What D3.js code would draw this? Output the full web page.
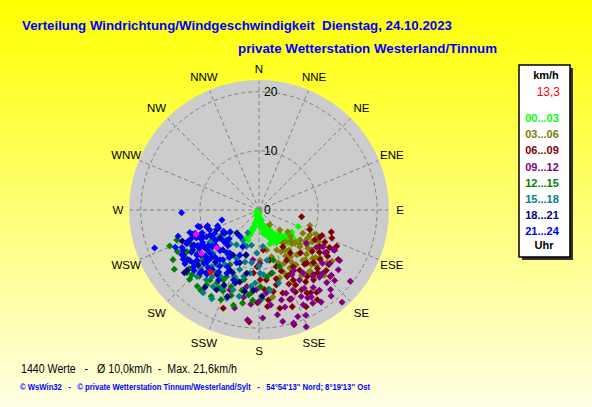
<!DOCTYPE html>
<html>
<head>
<meta charset="utf-8">
<script src="https://cdn.jsdelivr.net/npm/d3@7"></script>
<style>
  body { margin: 0; overflow: hidden; }
  svg { display: block; }
</style>
</head>
<body>
<div id="chart"></div>
<script>
"use strict"

/* wind direction (deg, clockwise from N) and speed (km/h),
   one list per 3 hour block */
let h00 = [[207,0.4],[201,1.1],[197,2.3],[197,3.5],[200,4.5],[204,5.2],[165,1.8],[169,3.5],[166,4.3],[151,3.9],
           [149,4.6],[148,5.6],[140,5.5],[141,6.5],[139,7.4],[152,6.3],[113,7.2],[132,7.1],[155,3.1],[174,1.7],
           [132,6.3],[180,0.7],[192,1.6],[196,3.0],[199,4.1],[169,2.6],[159,4.3],[155,5.2],[147,6.2],[136,6.1],
           [130,7.9],[200,5.4],[240,0.5],[162,6.0],[124,6.7],[190,0.8],[185,1.5],[195,2.8],[193,2.0],[199,3.2],
           [201,3.8],[202,4.8],[172,2.2],[167,2.9],[170,4.0],[163,3.6],[158,3.7],[154,4.0],[145,5.0],[143,6.0],
           [137,6.8],[134,7.5],[128,7.0],[150,5.0],[157,5.6],[160,5.0],[178,1.2],[210,1.0],[175,3.0]];
let h03 = [[144,3.1],[134,4.9],[127,6.1],[134,7.5],[144,6.9],[132,8.3],[132,9.3],[126,10.0],[127,11.2],[132,12.2],
           [134,13.5],[137,11.5],[140,9.9],[146,9.5],[152,11.1],[157,12.2],[165,12.3],[171,14.9],[147,13.2],[142,13.5],
           [128,13.1],[128,14.6],[125,15.1],[123,11.7],[120,9.5],[126,8.6],[118,8.4],[107,9.0],[116,9.6],[139,11.3],
           [156,7.4],[165,8.2],[169,6.9],[179,8.5],[147,8.1],[146,11.2],[118,11.4],[135,15.6],[130,9.0],[136,8.0],
           [140,7.0],[128,10.5],[133,11.0],[124,9.5],[121,10.5],[138,10.0],[143,8.5],[150,9.0],[148,10.5],[155,10.0],
           [160,9.5],[152,8.0],[130,12.5],[136,12.8],[140,13.5],[119,12.5],[113,10.5],[130,7.0],[158,11.5],[163,12.0]];
let h06 = [[99,7.3],[107,12.8],[114,11.3],[118,10.7],[116,12.4],[129,13.3],[122,15.8],[132,15.3],[144,13.9],[154,13.2],
           [164,14.6],[174,15.3],[161,17.3],[163,20.3],[181,15.7],[200,17.7],[168,17.0],[175,16.4],[157,12.2],[163,10.0],
           [168,8.7],[182,9.6],[185,10.7],[136,10.1],[144,9.0],[147,7.4],[148,16.5],[147,18.1],[154,18.2],[152,15.3],
           [167,13.0],[174,11.9],[149,11.2],[138,12.1],[121,12.0],[128,11.4],[122,13.5],[115,14.5],[151,9.7],[169,10.9],
           [179,11.8],[111,9.2],[111,13.2],[174,6.8],[185,19.0],[154,14.1],[142,15.0],[191,13.8],[146,12.3],[135,14.0],
           [125,12.5],[134,12.8],[140,12.0],[137,14.5],[128,15.0],[124,14.0],[118,13.5],[112,11.5],
           [140,14.3],[147,14.5],[153,12.0],[158,13.5],[160,11.0],[156,15.2],[150,16.2],[145,17.0],
           [161,16.0],[170,14.0],[166,12.0],[176,13.5],[133,16.5]];
let h09 = [[118,14.2],[123,13.3],[122,16.1],[128,19.6],[138,21.0],[158,21.3],[160,19.2],[168,19.3],[178,18.3],[186,18.7],
           [194,17.1],[125,9.8],[135,15.2],[138,18.1],[143,17.0],[149,17.2],[154,16.3],[157,14.7],[162,14.8],[153,12.3],
           [150,13.7],[175,14.1],[182,13.5],[189,13.1],[200,14.4],[205,14.3],[179,9.0],[187,8.5],[138,15.3],[137,16.8],
           [118,14.5],[132,16.5],[150,15.3],[151,17.0],[150,18.2],[123,11.6],[166,15.7],[127,16.8],[130,14.0],[127,15.0],
           [141,14.5],[145,16.0],[133,17.5],[140,19.0],[146,18.8],[155,17.7],[160,16.0],[165,17.0],[170,18.0],[173,16.2],
           [180,15.5],[185,16.0],[190,15.0],[156,19.5],[163,20.0],[120,12.5],[145,13.0],[150,11.8]];
let h12 = [[248,16.3],[240,16.8],[235,17.5],[230,15.4],[225,16.6],[222,15.1],[219,16.6],[215,14.5],[209,16.7],[207,13.3],
           [207,14.8],[240,14.1],[228,12.2],[229,16.2],[216,16.8],[203,16.5],[195,16.7],[190,16.0],[184,15.3],[179,13.0],
           [173,11.4],[168,10.9],[198,12.4],[206,12.5],[214,12.8],[228,12.7],[235,12.8],[192,13.9],[160,10.2],[164,8.8],
           [187,14.5],[208,10.5],[215,15.5],[222,13.0],[230,13.5],[236,14.8],[243,15.5],[226,15.8],[210,14.2],[204,15.0],
           [198,15.2],[185,14.0],[178,15.0],[173,13.5],[192,12.0],[200,13.8],[244,13.0],[250,14.8]];
let h15 = [[208,5.8],[199,6.5],[232,6.3],[224,9.5],[227,10.7],[226,12.8],[217,14.8],[211,15.1],[200,15.9],[198,14.2],
           [188,10.8],[179,10.7],[171,8.6],[165,12.8],[183,7.3],[174,6.2],[192,6.1],[206,4.3],[236,8.0],[237,9.9],
           [239,11.6],[223,15.4],[214,16.9],[205,9.0],[198,10.6],[212,10.9],[218,11.7],[195,9.1],[213,7.0],[183,12.4],
           [172,13.7],[215,9.2],[220,12.5],[210,13.0],[200,12.0],[193,11.5],[205,14.5],[215,13.8],[225,14.0],[230,11.5],
           [233,9.5],[228,7.5],[220,7.5],[196,8.0],[188,9.0],[180,9.5],[176,11.0],[186,13.0],[193,15.0],[208,17.0],
           [203,6.5],[218,5.5]];
let h18 = [[246,13.2],[239,14.9],[230,15.9],[247,10.8],[245,7.9],[222,9.1],[200,9.5],[191,10.9],[184,13.6],[200,15.6],
           [208,15.3],[220,13.9],[234,8.1],[228,13.9],[224,5.4],[225,11.5],[206,11.3],[239,13.1],[235,11.2],[210,8.8],
           [196,7.9],[178,14.6],[195,12.6],[243,9.3],[232,10.0],[238,12.0],[242,12.5],[227,12.0],[220,11.5],[213,13.0],
           [205,14.0],[215,16.0],[234,14.5],[244,10.5],[250,12.0],[236,7.0],[226,7.5],[203,11.5],[198,13.0],[190,14.0],
           [230,16.5],[248,14.0]];
let h21 = [[268,13.1],[250,18.8],[254,10.4],[252,9.3],[255,6.5],[246,7.5],[233,6.1],[246,13.2],[241,12.8],[242,14.5],
           [240,15.1],[235,14.7],[229,14.7],[223,14.2],[225,12.6],[223,10.9],[232,10.1],[240,11.0],[241,9.2],[226,8.0],
           [216,10.4],[207,12.0],[210,13.7],[214,8.8],[203,9.7],[204,6.8],[215,5.5],[248,10.4],[246,11.6],[237,7.2],
           [215,11.6],[200,12.6],[253,9.1],[255,10.7],[245,13.5],[237,15.3],[231,14.3],[223,14.6],[218,10.7],[218,12.8],
           [234,13.0],[232,11.0],[221,8.0],[203,8.3],[235,8.9],[252,14.4],[252,12.3],[230,9.5],[235,10.5],[240,12.0],
           [244,11.0],[238,13.5],[228,11.0],[224,9.5],[220,11.0],[226,13.0],[232,12.5],[236,9.0],[242,8.5],[248,9.0],
           [250,11.5],[247,12.5],[244,14.5],[238,11.2],[229,12.0],[221,13.0],[217,9.0],[212,9.5],[209,11.0],[226,7.0],
           [231,8.0],[239,7.0],[249,7.5],[246,15.5],[234,15.5],[227,15.0],[213,12.5],[219,14.0],[243,10.0],[237,12.0],
           [231,13.5],[225,11.8]];
let highlight = [[249,11.4],[233,12.2],[228,9.6]];
let current = [[218,13.3]];

let series = [h00, h03, h06, h09, h12, h15, h18, h21];
let seriesLabels = ["00...03", "03...06", "06...09", "09...12", "12...15", "15...18", "18...21", "21...24"];
let seriesColors = ["#00ff00", "#808000", "#800000", "#800080", "#008000", "#008080", "#000080", "#0000ff"];

let dirNames = ["N","NNE","NE","ENE","E","ESE","SE","SSE","S","SSW","SW","WSW","W","WNW","NW","NNW"];
let rings = [10, 20];
let ringLabels = [0, 10, 20];
let maxSpeed = 22;
let currentLabel = "13,3";
let footLine = "1440 Werte   -   \u00d8 10,0km/h  -  Max. 21,6km/h";

let width = 592, height = 407;
let cx = 259, cy = 210, rOut = 130;

let drawing = d3.select("#chart")
    .append("svg")
    .attr("width", width)
    .attr("height", height);

// yellow background fading downwards
let grad = drawing.append("defs").append("linearGradient")
    .attr("id", "bg").attr("x1", 0).attr("y1", 0).attr("x2", 0).attr("y2", 1);
grad.append("stop").attr("offset", "0%").attr("stop-color", "#ffff00");
grad.append("stop").attr("offset", "100%").attr("stop-color", "#ffffe4");
drawing.append("rect").attr("width", width).attr("height", height).attr("fill", "url(#bg)");

let r = d3.scaleLinear().domain([0, maxSpeed]).range([0, rOut]);
let ang = d3.scaleLinear().domain([0, 360]).range([0, 2 * Math.PI]);

let plot = drawing.append("g").attr("transform", `translate(${cx},${cy})`);

plot.append("circle").attr("r", r(maxSpeed)).attr("fill", "#cccccc");

// dashed grid: rings and 16 spokes
plot.selectAll(".ring").data(rings).enter().append("circle")
    .attr("r", d => r(d))
    .attr("fill", "none")
    .attr("stroke", "#808080")
    .attr("stroke-dasharray", "4,3");

plot.selectAll(".spoke").data(dirNames).enter().append("line")
    .each(function (d, i) {
        let p = d3.pointRadial(ang(i * 22.5), r(maxSpeed) - 1);
        d3.select(this).attr("x1", 0).attr("y1", 0).attr("x2", p[0]).attr("y2", p[1]);
    })
    .attr("stroke", "#808080")
    .attr("stroke-dasharray", "4,3");

plot.selectAll(".rlab").data(ringLabels).enter().append("text")
    .attr("x", 5)
    .attr("y", d => -r(d))
    .attr("dy", "0.35em")
    .attr("font-family", "Liberation Sans, Arial, sans-serif")
    .attr("font-size", 12)
    .text(d => d);

plot.selectAll(".dlab").data(dirNames).enter().append("text")
    .each(function (d, i) {
        let p = d3.pointRadial(ang(i * 22.5), 141 + 4 * Math.abs(Math.sin(ang(i * 45))));
        d3.select(this).attr("x", p[0]).attr("y", p[1]);
    })
    .attr("text-anchor", "middle")
    .attr("dy", "0.36em")
    .attr("font-family", "Liberation Sans, Arial, sans-serif")
    .attr("font-size", 11.5)
    .text(d => d);

// diamonds
let diamond = d3.symbol(d3.symbolSquare, 25)();
function dots(data, color) {
    plot.append("g").selectAll("path").data(data).enter().append("path")
        .attr("d", diamond)
        .attr("transform", d => {
            let p = d3.pointRadial(ang(d[0]), r(d[1]));
            return `translate(${p[0]},${p[1]}) rotate(45)`;
        })
        .attr("fill", color);
}
series.forEach((s, i) => dots(s, seriesColors[i]));
dots(highlight, "#ff00ff");
dots(current, "#ff0000");

// titles
let font = "Liberation Sans, Arial, sans-serif";
drawing.append("text")
    .attr("x", 22).attr("y", 30)
    .attr("font-family", font).attr("font-size", 13).attr("font-weight", "bold")
    .attr("fill", "#0000ff")
    .attr("xml:space", "preserve")
    .attr("textLength", 430).attr("lengthAdjust", "spacingAndGlyphs")
    .text("Verteilung Windrichtung/Windgeschwindigkeit  Dienstag, 24.10.2023");
drawing.append("text")
    .attr("x", 238).attr("y", 53)
    .attr("font-family", font).attr("font-size", 13).attr("font-weight", "bold")
    .attr("fill", "#0000ff")
    .attr("textLength", 259).attr("lengthAdjust", "spacingAndGlyphs")
    .text("private Wetterstation Westerland/Tinnum");

// legend box with shadow
drawing.append("rect").attr("x", 522).attr("y", 68).attr("width", 51).attr("height", 192).attr("fill", "#333333");
drawing.append("rect").attr("x", 519).attr("y", 65).attr("width", 51).attr("height", 192)
    .attr("fill", "#ffffff").attr("stroke", "#000000").attr("stroke-width", 1.5);

let legend = drawing.append("g")
    .attr("font-family", font).attr("font-size", 11).attr("font-weight", "bold");
legend.append("text").attr("x", 546).attr("y", 79).attr("text-anchor", "middle").text("km/h");
legend.append("text").attr("x", 560).attr("y", 96).attr("text-anchor", "end")
    .attr("fill", "#ff0000").attr("font-weight", "normal").attr("font-size", 12).text(currentLabel);
legend.selectAll(".lg").data(seriesLabels).enter().append("text")
    .attr("x", 542)
    .attr("y", (d, i) => 122 + i * 16.2)
    .attr("text-anchor", "middle")
    .attr("fill", (d, i) => seriesColors[i])
    .text(d => d);
legend.append("text").attr("x", 544).attr("y", 249).attr("text-anchor", "middle").text("Uhr");

// footer
drawing.append("text")
    .attr("x", 21).attr("y", 373)
    .attr("font-family", font).attr("font-size", 12)
    .attr("textLength", 216).attr("lengthAdjust", "spacingAndGlyphs")
    .attr("xml:space", "preserve")
    .text(footLine);
drawing.append("text")
    .attr("x", 20).attr("y", 390)
    .attr("font-family", font).attr("font-size", 9).attr("font-weight", "bold")
    .attr("fill", "#0000ff")
    .attr("textLength", 350).attr("lengthAdjust", "spacingAndGlyphs")
    .attr("xml:space", "preserve")
    .text("\u00a9 WsWin32   -   \u00a9 private Wetterstation Tinnum/Westerland/Sylt   -   54\u00b054'13'' Nord; 8\u00b019'13'' Ost");
</script>
</body>
</html>
